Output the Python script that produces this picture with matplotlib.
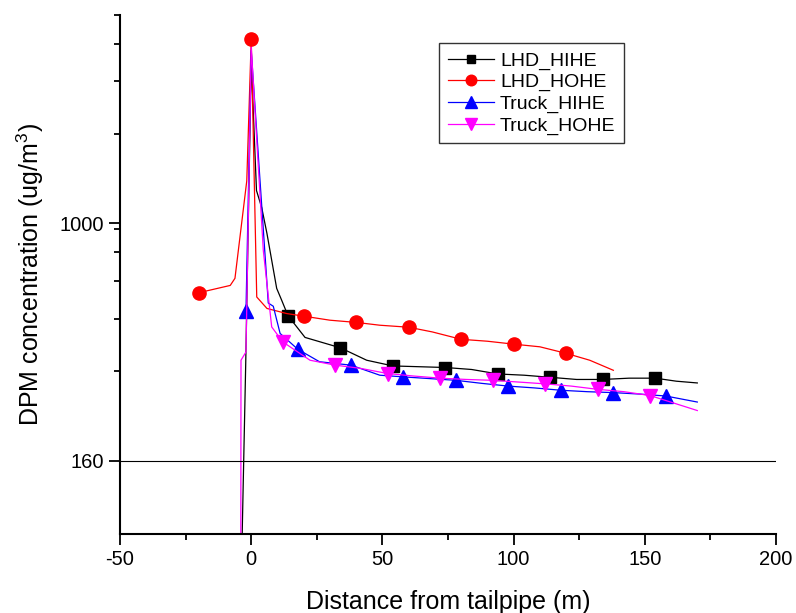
import numpy as np
import matplotlib
matplotlib.use("Agg")
import matplotlib.pyplot as plt
from matplotlib.ticker import FixedLocator, NullFormatter, FixedFormatter

plt.rcParams['font.family'] = ['Liberation Sans', 'DejaVu Sans']
plt.rcParams['axes.unicode_minus'] = False

# LHD_HIHE (black squares)
lhd_hihe_x = [-5, -2.1, 0, 2, 4, 6, 9.7, 11.6, 14, 20.5, 34, 44, 54, 64, 74, 84, 94, 104, 114, 124, 134, 144, 154, 162, 170]
lhd_hihe_y = [20, 340, 3500, 1290, 1130, 925, 606, 553, 491, 415, 383, 348, 333, 331, 329, 324, 313, 310, 305, 300, 300, 303, 303, 296, 292]
lhd_hihe_marks = [8, 10, 12, 14, 16, 18, 20, 22]

# LHD_HOHE (red circles)
lhd_hohe_x = [-20, -8, -6.2, -1.7, 0, 2.1, 6, 13.5, 20, 30, 40, 49, 60, 69, 80, 90, 100, 110, 120, 129, 138]
lhd_hohe_y = [586, 620, 655, 1390, 4157, 567, 519, 499, 489, 474, 466, 456, 449, 433, 409, 403, 394, 386, 367, 348, 322]
lhd_hohe_marks = [0, 4, 8, 10, 12, 14, 16, 18]

# Truck_HIHE (blue up triangles)
truck_hihe_x = [-2, 0, 6.5, 8.4, 11, 17.7, 26, 38, 49, 58, 68, 78, 88, 98, 108, 118, 128, 138, 148, 158, 170]
truck_hihe_y = [509, 3800, 541, 528, 428, 379, 344, 335, 310, 306, 302, 298, 291, 285, 281, 276, 273, 271, 268, 264, 252]
truck_hihe_marks = [0, 5, 7, 9, 11, 13, 15, 17, 19]

# Truck_HOHE (magenta down triangles)
truck_hohe_x = [-4.05, -3.9, -2.0, 0, 4.6, 7.8, 12, 22.4, 32, 41.5, 52, 62, 72, 82, 92, 102, 112, 122, 132, 142, 152, 170]
truck_hohe_y = [20, 348, 371, 3900, 812, 450, 401, 348, 335, 327, 314, 308, 303, 300, 298, 294, 290, 285, 278, 273, 265, 236]
truck_hohe_marks = [6, 8, 10, 12, 14, 16, 18, 20]

y_major = [160, 1000]
y_minor = [320, 480, 640, 800, 960, 2000, 3000, 4000, 5000]

fig = plt.figure(figsize=(7.96, 6.13), dpi=100)
ax = fig.add_axes([0.1508, 0.1289, 0.8241, 0.8466])

ax.plot(lhd_hihe_x, lhd_hihe_y, color='black', lw=0.9, marker='s', ms=8,
        markevery=lhd_hihe_marks, label='LHD_HIHE')
ax.plot(lhd_hohe_x, lhd_hohe_y, color='red', lw=0.9, marker='o', ms=9.5,
        markevery=lhd_hohe_marks, label='LHD_HOHE')
ax.plot(truck_hihe_x, truck_hihe_y, color='blue', lw=0.9, marker='^', ms=10,
        markevery=truck_hihe_marks, label='Truck_HIHE')
ax.plot(truck_hohe_x, truck_hohe_y, color='magenta', lw=0.9, marker='v', ms=10,
        markevery=truck_hohe_marks, label='Truck_HOHE')

ax.axhline(160, color='black', lw=0.8)

ax.set_yscale('log')
ax.set_xlim(-50, 200)
ax.set_ylim(91, 5000)
ax.set_xticks(np.arange(-50, 201, 50))
ax.set_xticks(np.arange(-25, 200, 25), minor=True)
ax.yaxis.set_major_locator(FixedLocator(y_major))
ax.yaxis.set_major_formatter(FixedFormatter([str(v) for v in y_major]))
ax.yaxis.set_minor_locator(FixedLocator(y_minor))
ax.yaxis.set_minor_formatter(NullFormatter())

for side in ['top', 'right']:
    ax.spines[side].set_visible(False)
for side in ['left', 'bottom']:
    ax.spines[side].set_linewidth(1.5)

ax.tick_params(which='major', direction='out', length=8, width=1.3, labelsize=14.5)
ax.tick_params(which='minor', direction='out', length=4.5, width=1.3)

ax.set_xlabel('Distance from tailpipe (m)', fontsize=18, labelpad=15)
ax.set_ylabel('DPM concentration (ug/m$^\\mathregular{3}$)', fontsize=18, labelpad=10)

leg = ax.legend(loc='upper left', bbox_to_anchor=(0.486, 0.946), fontsize=14,
                fancybox=False, edgecolor='#333333', framealpha=1,
                handlelength=2.4, handletextpad=0.3, labelspacing=0.2,
                borderpad=0.45, markerscale=0.8, borderaxespad=0)
leg.get_frame().set_linewidth(1.0)

fig.savefig('out.png', dpi=100)
